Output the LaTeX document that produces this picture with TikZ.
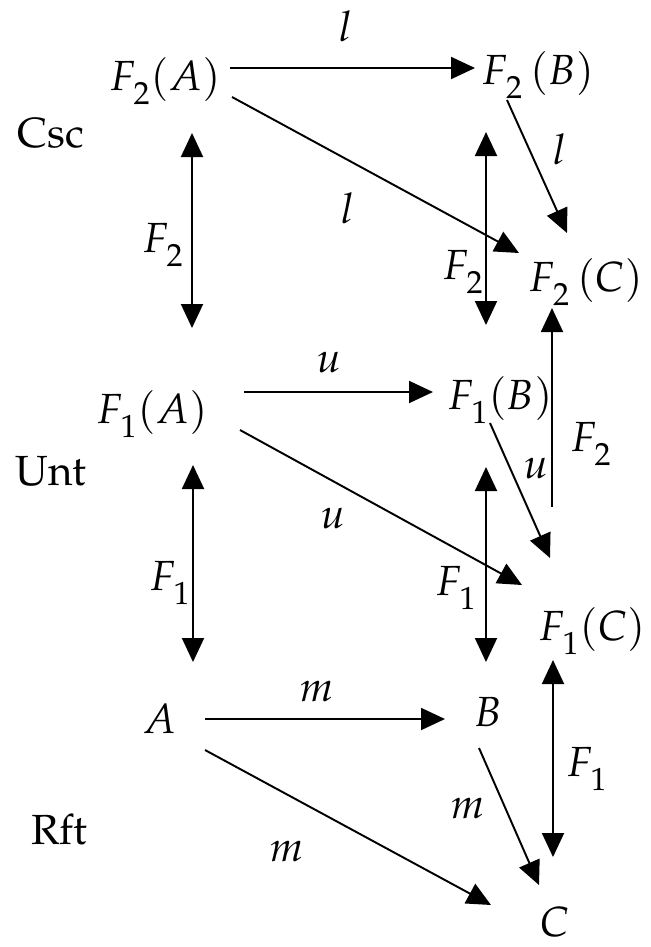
\documentclass[tikz,border=0pt]{standalone}
\usepackage[T1]{fontenc}
\usepackage{mathpazo}
\usetikzlibrary{arrows.meta,calc}
\newcommand{\lowsub}[1]{_{\kern1.5pt\lower4pt\hbox{$\scriptstyle #1$}}}

\begin{document}
\begin{tikzpicture}[x=0.02cm, y=-0.02cm,
  >={Triangle[length=0.48cm,width=0.44cm]},
  font=\fontsize{24}{28}\selectfont, inner sep=1pt,
  mor/.style={->, line width=1.1pt},
  iso/.style={<->, line width=1.1pt}]
  \useasboundingbox (0,0) rectangle (650,947);
  % row names
  \node (csc) at (51,133) {Csc};
  \node (unt) at (51,471) {Unt};
  \node (rft) at (59,829) {Rft};
  % objects
  \node (F2A) at (165,81) {$F\lowsub{2}(A)$};
  \node (F2B) at (538,75) {$F\lowsub{2}\,(B)$};
  \node (F2C) at (586,282) {$F\lowsub{2}\,(C)$};
  \node (F1A) at (152,414) {$F\lowsub{1}(A)$};
  \node (F1B) at (500,400) {$F\lowsub{1}(B)$};
  \node (F1C) at (592,631) {$F\lowsub{1}(C)$};
  \node (A) at (160,719) {$A$};
  \node (B) at (488,712) {$B$};
  \node (C) at (555,922) {$C$};
  % Csc triangle
  \draw[mor] ($(F2A)+(65,-13)$) -- ($(F2B)+(-63,-7)$);
  \draw[mor] ($(F2A)+(67,16)$) -- ($(F2C)+(-67,-29)$);
  \draw[mor] ($(F2B)+(-31,25)$) -- ($(F2C)+(-19,-49)$);
  \node (l1) at (346,26) {$l$};
  \node (l2) at (348,208) {$l$};
  \node (l3) at (560,149) {$l$};
  % F_2 between the levels
  \draw[iso] ($(F2A)+(27,52)$) -- ($(F1A)+(40,-86)$);
  \draw[iso] ($(F2B)+(-52,57)$) -- ($(F1B)+(-14,-75)$);
  \draw[mor] ($(F1C)+(-40,-124)$) -- ($(F2C)+(-34,26)$);
  \node (f2a) at (163,245) {$F\lowsub{2}$};
  \node (f2b) at (463,272) {$F\lowsub{2}$};
  \node (f2c) at (591,444) {$F\lowsub{2}$};
  % Unt triangle
  \draw[mor] ($(F1A)+(92,-22)$) -- ($(F1B)+(-67,-8)$);
  \draw[mor] ($(F1A)+(88,16)$) -- ($(F1C)+(-70,-46)$);
  \draw[mor] ($(F1B)+(-10,23)$) -- ($(F1C)+(-42,-73)$);
  \node (u1) at (329,362) {$u$};
  \node (u2) at (333,518) {$u$};
  \node (u3) at (536,468) {$u$};
  % F_1 between the levels
  \draw[iso] ($(F1A)+(41,51)$) -- ($(A)+(33,-57)$);
  \draw[iso] ($(F1B)+(-14,67)$) -- ($(B)+(-2,-50)$);
  \draw[iso] ($(F1C)+(-39,29)$) -- ($(C)+(-2,-65)$);
  \node (f1a) at (170,583) {$F\lowsub{1}$};
  \node (f1b) at (456,588) {$F\lowsub{1}$};
  \node (f1c) at (587,769) {$F\lowsub{1}$};
  % Rft triangle
  \draw[mor] ($(A)+(45,0)$) -- ($(B)+(-43,7)$);
  \draw[mor] ($(A)+(45,31)$) -- ($(C)+(-64,-17)$);
  \draw[mor] ($(B)+(-9,36)$) -- ($(C)+(-16,-37)$);
  \node (m1) at (317,691) {$m$};
  \node (m2) at (287,851) {$m$};
  \node (m3) at (468,808) {$m$};
\end{tikzpicture}
\end{document}
